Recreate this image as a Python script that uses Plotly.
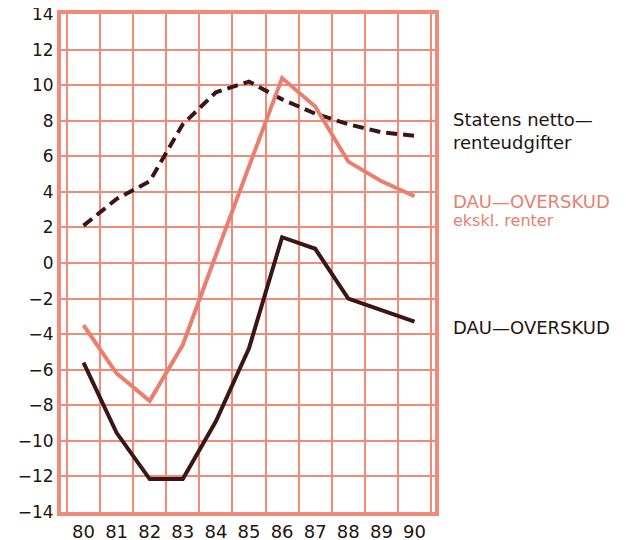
import plotly.graph_objects as go

years = [80, 81, 82, 83, 84, 85, 86, 87, 88, 89, 90]
netto_renter = [2.1, 3.6, 4.6, 7.8, 9.6, 10.2, 9.2, 8.4, 7.8, 7.35, 7.15]
overskud_ekskl = [-3.5, -6.2, -7.75, -4.6, 0.45, 5.4, 10.4, 8.8, 5.7, 4.6, 3.75]
overskud = [-5.6, -9.55, -12.15, -12.15, -8.9, -4.8, 1.45, 0.8, -2.0, -2.65, -3.3]

y_ticks = list(range(-14, 15, 2))

GRID = "#f28a7a"
PINK = "#e8806f"
DARK = "#3a1614"
TXT = "#24140e"
FONT = "DejaVu Sans"

W, H = 618, 532
L, R, T, B = 53, 191, 6, 28

fig = go.Figure()
fig.add_trace(go.Scatter(x=years, y=netto_renter, mode="lines",
                         line=dict(color=DARK, width=4, dash="11px,6px")))
fig.add_trace(go.Scatter(x=years, y=overskud_ekskl, mode="lines",
                         line=dict(color=PINK, width=4)))
fig.add_trace(go.Scatter(x=years, y=overskud, mode="lines",
                         line=dict(color=DARK, width=4)))

fig.update_layout(
    width=W, height=H,
    margin=dict(l=L, r=R, t=T, b=B, autoexpand=False),
    paper_bgcolor="white", plot_bgcolor="white",
    showlegend=False,
    font=dict(family=FONT, size=17, color=TXT),
    xaxis=dict(range=[79.32, 90.62], tickvals=years, ticktext=[str(y) for y in years],
               tickfont=dict(size=18, color=TXT),
               showgrid=False, zeroline=False, showline=True, linecolor=GRID,
               linewidth=4, mirror=True, ticks="", ticklen=0, automargin=False,
               ticklabeloverflow="allow",
               minor=dict(tick0=80.5, dtick=1, showgrid=True, gridcolor=GRID, gridwidth=2, ticks="")),
    yaxis=dict(range=[-14, 14], tickvals=y_ticks, showgrid=True, gridcolor=GRID, gridwidth=2,
               tickfont=dict(size=17, color=TXT),
               zeroline=False, showline=True, linecolor=GRID, linewidth=4, mirror=True,
               ticks="", ticklen=0, automargin=False, ticklabeloverflow="allow"),
)

ann = [
    dict(text="Statens netto—<br>renteudgifter", y=131, color=TXT, size=18),
    dict(text="DAU—OVERSKUD", y=201, color=PINK, size=18),
    dict(text="ekskl. renter", y=220, color=PINK, size=16),
    dict(text="DAU—OVERSKUD", y=327, color=TXT, size=18),
]
pw = W - L - R
ph = H - T - B
for a in ann:
    fig.add_annotation(text=a["text"], xref="paper", yref="paper",
                       x=(451 - 8 - L) / pw, xanchor="left",
                       y=1 - (a["y"] - 8 - T) / ph, yanchor="middle",
                       align="left", showarrow=False,
                       font=dict(size=a["size"], color=a["color"], family=FONT))

fig.write_html("out.html")
